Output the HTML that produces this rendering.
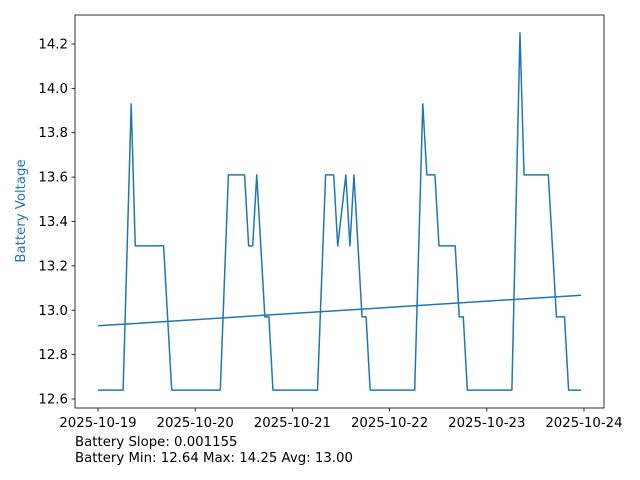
<!DOCTYPE html>
<html><head><meta charset="utf-8"><style>
body{margin:0;background:#fff;}
svg{display:block;font-family:"DejaVu Sans","Liberation Sans",sans-serif;}
</style></head><body>
<svg id="chart" width="640" height="480" viewBox="0 0 640 480">
<rect x="0" y="0" width="640" height="480" fill="#fff"/>
<g id="plot"></g>
<text x="25" y="211" fill="#1f77b4" font-size="13.3" text-anchor="middle" transform="rotate(-90 25 211)">Battery Voltage</text>
<text x="75" y="446" font-size="13.3" fill="#000">Battery Slope: 0.001155</text>
<text x="75" y="462" font-size="13.3" fill="#000">Battery Min: 12.64 Max: 14.25 Avg: 13.00</text>
</svg>
<script>
const hours = [0,6.2,8.2,9.2,16.2,18.2,30.2,32.2,36.2,37.2,38.2,39.2,41.2,42.2,43.2,54.2,56.2,58.2,59.2,61.2,62.2,63.2,65.2,66.2,67.2,78.2,80.2,81.2,83.2,84.2,88.2,89.2,90.2,91.2,102.2,104.2,105.2,111.2,113.2,115.2,116.2,119.3];
const voltage = [12.64,12.64,13.93,13.29,13.29,12.64,12.64,13.61,13.61,13.29,13.29,13.61,12.97,12.97,12.64,12.64,13.61,13.61,13.29,13.61,13.29,13.61,12.97,12.97,12.64,12.64,13.93,13.61,13.61,13.29,13.29,12.97,12.97,12.64,12.64,14.25,13.61,13.61,12.97,12.97,12.64,12.64];
const trendIntercept = [12.93];
const trendSlope = [0.001155];
const xTickLabels = ["2025-10-19","2025-10-20","2025-10-21","2025-10-22","2025-10-23","2025-10-24"];
const yTickValues = [12.6,12.8,13.0,13.2,13.4,13.6,13.8,14.0,14.2];

const L=75,R=604,T=15,B=408;
const xMin=-0.2366*24, xMax=5.206*24, yMin=12.5595, yMax=14.3306;
const sx=h=>L+(h-xMin)/(xMax-xMin)*(R-L);
const sy=v=>B-(v-yMin)/(yMax-yMin)*(B-T);
const NS="http://www.w3.org/2000/svg";
const g=document.getElementById('plot');
function mk(tag,attrs){const e=document.createElementNS(NS,tag);for(const k in attrs)e.setAttribute(k,attrs[k]);g.appendChild(e);return e;}

yTickValues.forEach(v=>{
  const y=sy(v);
  const t=mk('line',{x1:L-3.5,x2:L,y1:y,y2:y,stroke:'#000','stroke-width':0.8});
  
  
  const lb=mk('text',{x:L-7,y:y+4.5,'font-size':13.3,'text-anchor':'end',fill:'#000'});
  lb.textContent=v.toFixed(1);
  
  
});
xTickLabels.forEach((s,i)=>{
  const x=sx(i*24);
  const t=mk('line',{x1:x,x2:x,y1:B,y2:B+3.5,stroke:'#000','stroke-width':0.8});
  
  
  const lb=mk('text',{x:x,y:B+19,'font-size':13.3,'text-anchor':'middle',fill:'#000'});
  lb.textContent=s;
  
  
});

const pts=hours.map((h,i)=>sx(h).toFixed(2)+','+sy(voltage[i]).toFixed(2)).join(' ');
const line=mk('polyline',{points:pts,fill:'none',stroke:'#1f77b4','stroke-width':1.5,'stroke-linejoin':'round'});



const h0=hours[0],h1=hours[hours.length-1];
const tr=mk('line',{x1:sx(h0),y1:sy(trendIntercept[0]+trendSlope[0]*h0),x2:sx(h1),y2:sy(trendIntercept[0]+trendSlope[0]*h1),stroke:'#1f77b4','stroke-width':1.5});



const fr=mk('rect',{x:L,y:T,width:R-L,height:B-T,fill:'none',stroke:'#000','stroke-width':0.8});


</script>
</body></html>
